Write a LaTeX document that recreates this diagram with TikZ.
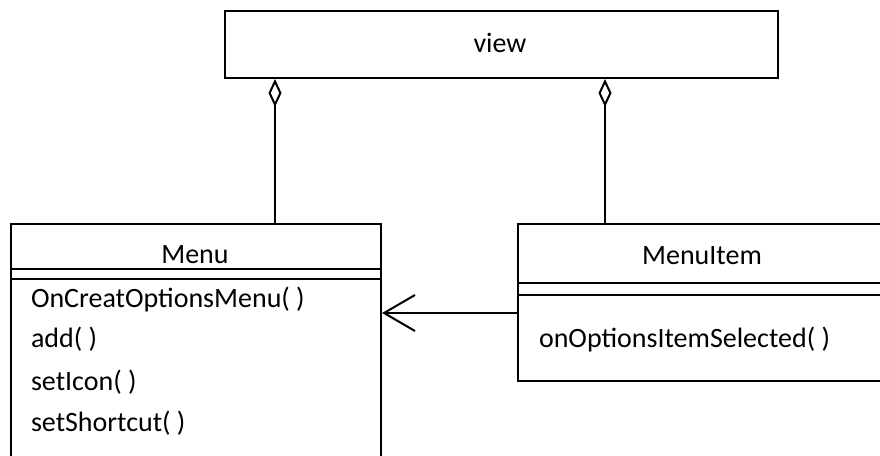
\documentclass[tikz,border=0pt]{standalone}
\usepackage{fontspec}
\setmainfont{Carlito}
\usetikzlibrary{arrows.meta}
\begin{document}
\begin{tikzpicture}[x=1pt,y=-1pt,line width=2pt,
  box/.style={draw,rectangle,inner sep=0pt,anchor=north west},
  txt/.style={font=\fontsize{28}{32}\selectfont,inner sep=0pt},
  aggr/.style={{Diamond[open,length=28pt,width=13pt,line width=2pt]}-},
  dep/.style={-{Straight Barb[length=31pt,width=36pt,line width=2pt]}}]
\useasboundingbox (0,0) rectangle (880,455);
\clip (0,0) rectangle (880,455);

% class boxes
\node[box,minimum width=553pt,minimum height=67pt] (view) at (224,10) {};
\node[box,minimum width=370pt,minimum height=260pt] (menu) at (10,223) {};
\node[box,minimum width=370pt,minimum height=157pt] (mi) at (517,223) {};

% compartment separators
\draw (menu.west |- 0,269) -- (menu.east |- 0,269);
\draw (menu.west |- 0,279) -- (menu.east |- 0,279);
\draw (mi.west |- 0,283) -- (mi.east |- 0,283);
\draw (mi.west |- 0,295) -- (mi.east |- 0,295);

% labels
\node[txt,anchor=base] (viewname) at (500,52) {view};
\node[txt,anchor=base] (menuname) at (195,263) {Menu};
\node[txt,anchor=base] (miname) at (702,264) {MenuItem};
\node[txt,anchor=base west] (m1) at (30,307) {OnCreatOptionsMenu( )};
\node[txt,anchor=base west] (m2) at (30,347) {add( )};
\node[txt,anchor=base west] (m3) at (30,390) {setIcon( )};
\node[txt,anchor=base west] (m4) at (30,431) {setShortcut( )};
\node[txt,anchor=base west] (mi1) at (538,347) {onOptionsItemSelected( )};

% aggregations to view
\coordinate (jL) at (275,0);
\coordinate (jR) at (605,0);
\draw[aggr] (view.south -| jL) -- (menu.north -| jL);
\draw[aggr] (view.south -| jR) -- (mi.north -| jR);

% dependency MenuItem -> Menu
\coordinate (dy) at (0,313);
\draw[dep] (mi.west |- dy) -- (menu.east |- dy);
\end{tikzpicture}
\end{document}
